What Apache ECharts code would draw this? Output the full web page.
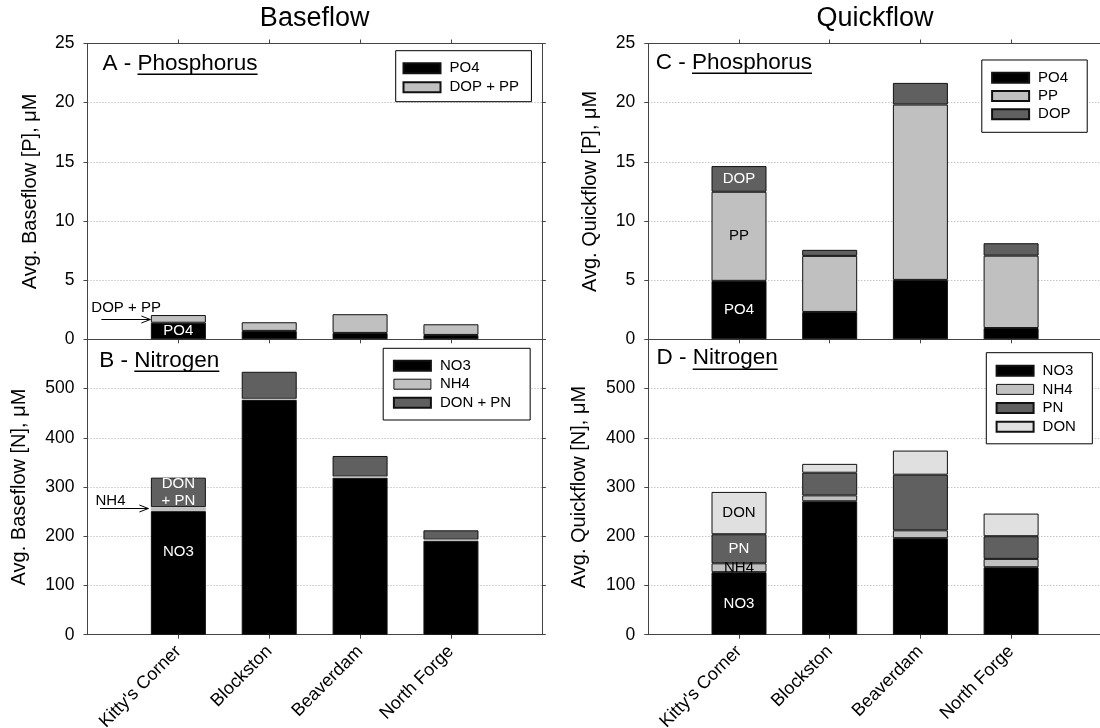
<!DOCTYPE html>
<html>
<head>
<meta charset="utf-8">
<script src="https://cdn.jsdelivr.net/npm/echarts@6/dist/echarts.min.js"></script>
<style>
  html, body { margin: 0; padding: 0; background: #fff; }
  #chart { width: 1100px; height: 728px; }
</style>
</head>
<body>
<div id="chart"></div>
<script>
// Sampling sites along the x axis
const sites = ["Kitty's Corner", 'Blockston', 'Beaverdam', 'North Forge'];

// Baseflow phosphorus, µM
const basePO4   = [1.40, 0.71, 0.54, 0.37];
const baseDOPPP = [0.65, 0.73, 1.58, 0.90];

// Baseflow nitrogen, µM
const baseNO3   = [251, 477, 319, 191];
const baseNH4   = [8, 2, 2, 2];
const baseDONPN = [60, 55, 42, 19];

// Quickflow phosphorus, µM
const quickPO4 = [4.94, 2.31, 5.02, 0.95];
const quickPP  = [7.53, 4.74, 14.82, 6.12];
const quickDOP = [2.17, 0.51, 1.83, 1.05];

// Quickflow nitrogen, µM
const quickNO3 = [127, 271, 196, 137];
const quickNH4 = [18, 12, 16, 17];
const quickPN  = [59, 46, 113, 46];
const quickDON = [86, 18, 49, 46];

// Value axis ranges: [min, max, step]
const pRange = [0, 25, 5];
const nRange = [0, 600, 100];

const columnTitles = ['Baseflow', 'Quickflow'];
const axisNames = [
  'Avg. Baseflow [P], \u03bcM',
  'Avg. Baseflow [N], \u03bcM',
  'Avg. Quickflow [P], \u03bcM',
  'Avg. Quickflow [N], \u03bcM'
];

const FONT = "'Liberation Sans', Arial, Helvetica, sans-serif";
const AXIS = '#444';
const BLACK = '#000', LIGHT = '#c0c0c0', DARK = '#606060', PALE = '#e0e0e0';
const BAR_W = 55;

// Category slots: an empty slot on each side of the four sites
const slots = [''].concat(sites, [' ']);
const isSite = (i) => i >= 1 && i <= sites.length;

// Panels: A (top-left), B (bottom-left), C (top-right), D (bottom-right)
const grids = [
  { left: 87.5,  top: 43.5,  width: 454.3, height: 295.8 },
  { left: 87.5,  top: 339.3, width: 454.3, height: 295.4 },
  { left: 648.3, top: 43.5,  width: 453.5, height: 295.8 },
  { left: 648.3, top: 339.3, width: 453.5, height: 295.4 }
].map(g => Object.assign({ show: false, outerBoundsMode: 'none', containLabel: false }, g));

function catAxis(gi, pos, ticks, labels) {
  return {
    type: 'category', gridIndex: gi, position: pos, data: slots, boundaryGap: false,
    axisLine: { show: true, onZero: false, lineStyle: { color: AXIS, width: 1 } },
    axisTick: { show: ticks, length: 4, interval: isSite, lineStyle: { color: AXIS, width: 1 } },
    axisLabel: {
      show: labels, interval: isSite, rotate: 45, margin: 14,
      fontSize: 18, fontFamily: FONT, color: '#000'
    },
    splitLine: { show: false }
  };
}

function valAxis(gi, pos, range, opt) {
  const ax = {
    type: 'value', gridIndex: gi, position: pos,
    min: range[0], max: range[1], interval: range[2],
    axisLine: { show: true, onZero: false, lineStyle: { color: AXIS, width: 1 } },
    axisTick: { show: true, length: 4, lineStyle: { color: AXIS, width: 1 } },
    axisLabel: {
      show: !!opt.labels, margin: 13, fontSize: 17.5, fontFamily: FONT, color: '#000',
      showMinLabel: true, showMaxLabel: !!opt.showMax
    },
    splitLine: { show: !!opt.split, lineStyle: { color: '#aaa', type: [1, 2], width: 1 } }
  };
  if (opt.name) {
    Object.assign(ax, {
      name: opt.name, nameLocation: 'middle', nameGap: opt.nameGap, nameRotate: 90,
      nameTextStyle: { fontSize: 20, fontFamily: FONT, color: '#000' }
    });
  }
  return ax;
}

const xAxes = [], yAxes = [];
const yConf = [
  { range: pRange, showMax: true,  nameGap: 47 },
  { range: nRange, showMax: false, nameGap: 58 },
  { range: pRange, showMax: true,  nameGap: 47.5 },
  { range: nRange, showMax: false, nameGap: 59 }
];
for (let gi = 0; gi < 4; gi++) {
  const isBottom = gi % 2 === 1;
  xAxes.push(catAxis(gi, 'bottom', true, isBottom));
  xAxes.push(catAxis(gi, 'top', !isBottom, false));
  const c = yConf[gi];
  yAxes.push(valAxis(gi, 'left', c.range, { labels: true, split: true, showMax: c.showMax, name: axisNames[gi], nameGap: c.nameGap }));
  yAxes.push(valAxis(gi, 'right', c.range, { labels: false, split: false }));
}

function insideLabel(text, color, extra) {
  return Object.assign({
    show: true, position: 'inside', color: color, fontSize: 15, fontFamily: FONT,
    textBorderWidth: 0, lineHeight: 17,
    formatter: (p) => (p.dataIndex === 0 ? text : '')
  }, extra || {});
}

function bars(gi, name, values, color, extra) {
  return Object.assign({
    type: 'bar', name: name, stack: 'panel' + gi,
    xAxisIndex: gi * 2, yAxisIndex: gi * 2,
    data: sites.map((s, i) => [s, values[i]]),
    barWidth: BAR_W,
    itemStyle: { color: color, borderColor: '#111', borderWidth: 1 },
    label: { show: false },
    emphasis: { disabled: true },
    silent: true
  }, extra || {});
}

const series = [
  // A - baseflow phosphorus
  bars(0, 'PO4', basePO4, BLACK, { label: insideLabel('PO4', '#fff') }),
  bars(0, 'DOP + PP', baseDOPPP, LIGHT),
  // B - baseflow nitrogen
  bars(1, 'NO3', baseNO3, BLACK, { label: insideLabel('NO3', '#fff', { offset: [0, -21] }) }),
  bars(1, 'NH4', baseNH4, LIGHT, { z: 3, itemStyle: { color: LIGHT, borderColor: LIGHT, borderWidth: 1 } }),
  bars(1, 'DON + PN', baseDONPN, DARK, { label: insideLabel('DON\n+ PN', '#fff') }),
  // C - quickflow phosphorus
  bars(2, 'PO4', quickPO4, BLACK, { label: insideLabel('PO4', '#fff') }),
  bars(2, 'PP', quickPP, LIGHT, { label: insideLabel('PP', '#000') }),
  bars(2, 'DOP', quickDOP, DARK, { label: insideLabel('DOP', '#fff') }),
  // D - quickflow nitrogen
  bars(3, 'NO3', quickNO3, BLACK, { label: insideLabel('NO3', '#fff') }),
  bars(3, 'NH4', quickNH4, LIGHT, { label: insideLabel('NH4', '#000') }),
  bars(3, 'PN', quickPN, DARK, { label: insideLabel('PN', '#fff') }),
  bars(3, 'DON', quickDON, PALE, { label: insideLabel('DON', '#000') })
];

const framedSwatch = { borderColor: '#111', borderWidth: 1 };
function legendBox(left, top, names, padding, gap) {
  return {
    orient: 'vertical', left: left, top: top, padding: padding, itemGap: gap,
    icon: 'rect', itemWidth: 37, itemHeight: 10,
    borderColor: '#000', borderWidth: 1, backgroundColor: '#fff',
    selectedMode: false,
    textStyle: { fontSize: 15, fontFamily: FONT, color: '#000', padding: [0, 0, 0, 4] },
    data: names.map(n => (n === 'NH4' ? { name: n, itemStyle: Object.assign({ color: LIGHT }, framedSwatch) } : n))
  };
}

const legends = [
  legendBox(395.7, 50.7,  ['PO4', 'DOP + PP'], [10.1, 12.3, 6.9, 6.8], 4),
  legendBox(383.2, 348.3, ['NO3', 'NH4', 'DON + PN'], [9.9, 19, 9.8, 9.7], 3.5),
  legendBox(981.8, 60,    ['PO4', 'PP', 'DOP'], [10.2, 16.6, 10.5, 9.3], 3.3),
  legendBox(986.3, 352.7, ['NO3', 'NH4', 'PN', 'DON'], [10.5, 16.4, 9.5, 9.3], 3.7)
];

const chart = echarts.init(document.getElementById('chart'), null, { renderer: 'canvas' });
chart.setOption({
  animation: false,
  backgroundColor: '#fff',
  textStyle: { fontFamily: FONT },
  grid: grids,
  xAxis: xAxes,
  yAxis: yAxes,
  legend: legends,
  series: series
});

// ---- Text and annotation overlays ----
const mctx = document.createElement('canvas').getContext('2d');
function textWidth(str, size) {
  mctx.font = size + 'px ' + FONT;
  return mctx.measureText(str).width;
}
function txt(x, y, str, size, align) {
  return {
    type: 'text', x: x, y: y, silent: true,
    style: {
      text: str, fontSize: size, fontFamily: FONT, fill: '#000',
      align: align || 'left', verticalAlign: 'middle',
      textAlign: align || 'left', textVerticalAlign: 'middle'
    }
  };
}
function hline(x1, x2, y, w) {
  return { type: 'line', silent: true, shape: { x1: x1, y1: y, x2: x2, y2: y }, style: { stroke: '#000', lineWidth: w || 1 } };
}
function arrow(xStart, xTip, y) {
  return [
    hline(xStart, xTip, y, 1),
    {
      type: 'polyline', silent: true,
      shape: { points: [[xTip - 9, y - 3.5], [xTip, y], [xTip - 9, y + 3.5]] },
      style: { stroke: '#000', fill: null, lineWidth: 1 }
    }
  ];
}

const graphics = [];

// Column headings centred over each column of panels
[0, 2].forEach((gi, k) => {
  const g = grids[gi];
  graphics.push(txt(g.left + g.width / 2, 18.9, columnTitles[k], 27, 'center'));
});

// Panel tags with underlined element name
const TAG = 22.5;
const tags = [
  { x: 102.5, base: 71.7,  prefix: 'A - ', word: 'Phosphorus' },
  { x: 99.3,  base: 368.3, prefix: 'B - ', word: 'Nitrogen' },
  { x: 655.7, base: 70.7,  prefix: 'C - ', word: 'Phosphorus' },
  { x: 656.4, base: 366.0, prefix: 'D - ', word: 'Nitrogen' }
];
tags.forEach(t => {
  const ym = t.base - 0.3465 * TAG;
  const wPre = textWidth(t.prefix, TAG);
  const wWord = textWidth(t.word, TAG);
  graphics.push(txt(t.x, ym, t.prefix + t.word, TAG, 'left'));
  graphics.push(hline(t.x + wPre, t.x + wPre + wWord, Math.round(t.base + 2.6) + 0.25, 1.5));
});

// Arrows pointing at the thin segments of the first baseflow bars
const half = BAR_W / 2;
const pA = chart.convertToPixel({ seriesIndex: 1 }, [sites[0], basePO4[0] + baseDOPPP[0] / 2]);
const ayA = Math.round(pA[1]) + 0.5;
const leftA = pA[0] - half;
graphics.push(...arrow(leftA - 49.5, leftA - 0.5, ayA));
graphics.push(txt(leftA - 59.5, ayA - 11.5, 'DOP + PP', 15, 'left'));

const pB = chart.convertToPixel({ seriesIndex: 3 }, [sites[0], baseNO3[0] + baseNH4[0] / 2]);
const ayB = Math.round(pB[1]) - 0.5;
const leftB = pB[0] - half;
graphics.push(...arrow(leftB - 50.8, leftB - 2.5, ayB));
graphics.push(txt(leftB - 55.4, ayB - 7.5, 'NH4', 15, 'left'));

chart.setOption({ graphic: { elements: graphics } });
</script>
</body>
</html>
